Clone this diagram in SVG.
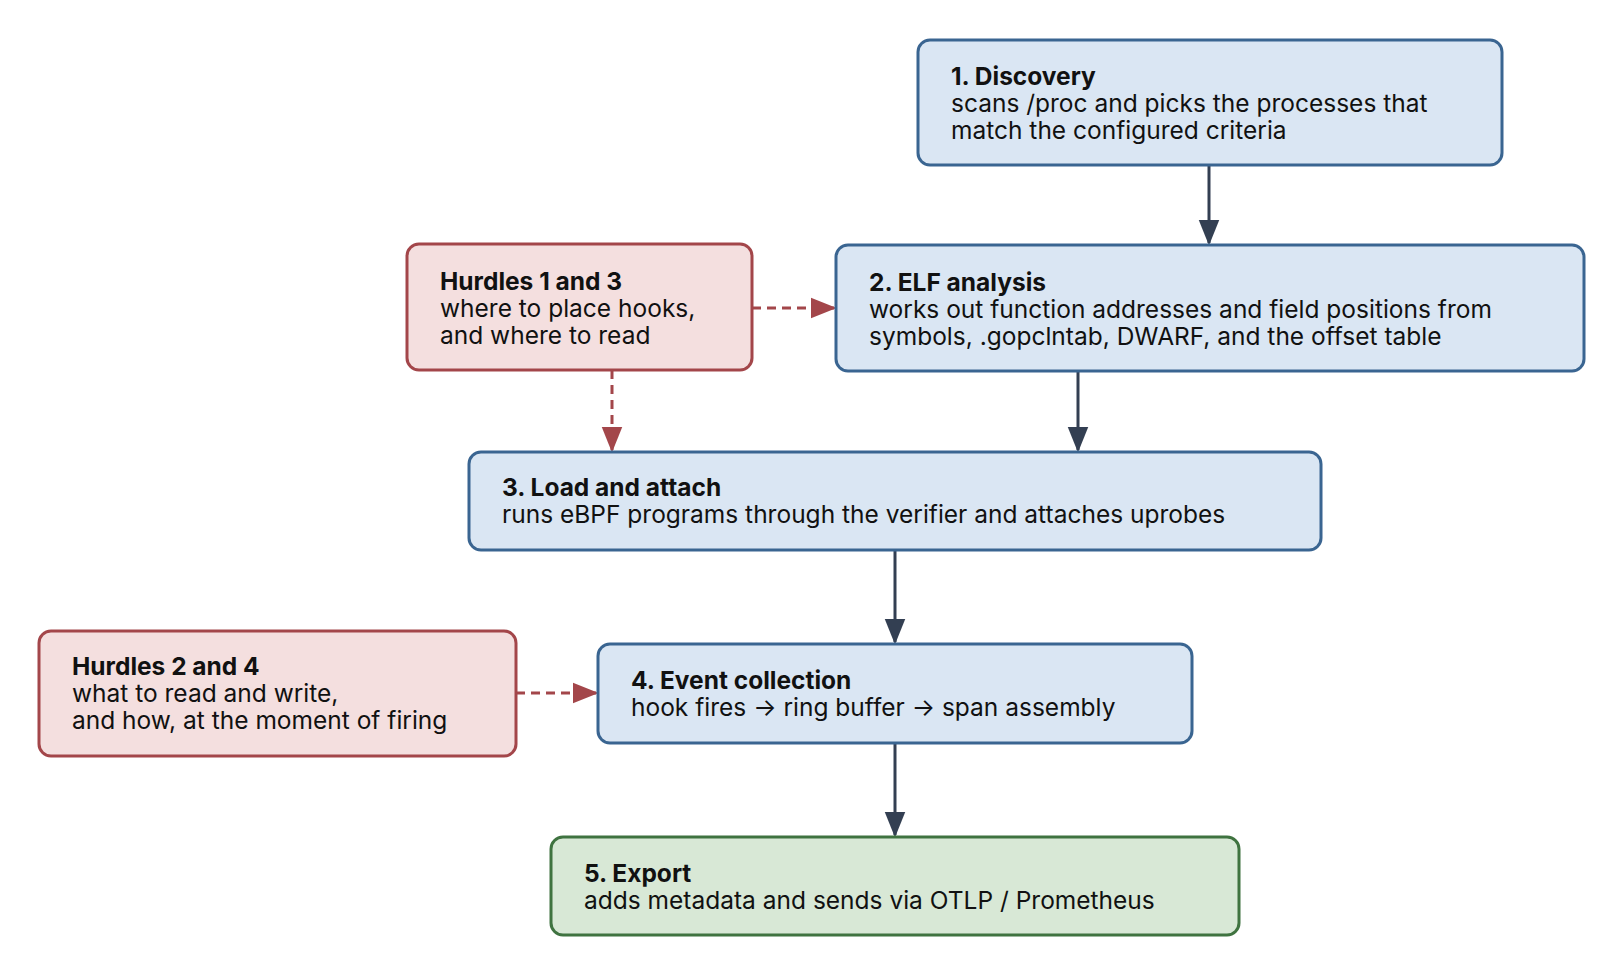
<svg xmlns="http://www.w3.org/2000/svg" width="1616" height="972" viewBox="0 0 1616 972">
<style>
.b{fill:#dae6f3;stroke:#3a6591;stroke-width:3}
.r{fill:#f4dfdf;stroke:#a3464a;stroke-width:3}
.g{fill:#d8e8d6;stroke:#3f7340;stroke-width:3}
text{font-family:Inter,"Noto Sans",sans-serif;font-size:24.5px;fill:#111}
.t{font-weight:bold;font-family:Inter,"Noto Sans",sans-serif}
.s{stroke:#333f52;stroke-width:3;fill:none}
.d{stroke:#a3464a;stroke-width:3;fill:none;stroke-dasharray:9 6}
</style>
<defs>
<marker id="ad" markerWidth="10" markerHeight="10" refX="9" refY="5" orient="auto" markerUnits="userSpaceOnUse" viewBox="0 0 10 10"><path d="M0,0L10,5L0,10z" fill="#333f52"/></marker>
<marker id="ar" viewBox="0 0 10 10" refX="9" refY="5" markerWidth="26" markerHeight="26" orient="auto" markerUnits="userSpaceOnUse"><path d="M0,1L10,5L0,9z" fill="#a3464a"/></marker>
<marker id="ab" viewBox="0 0 10 10" refX="9" refY="5" markerWidth="26" markerHeight="26" orient="auto" markerUnits="userSpaceOnUse"><path d="M0,1L10,5L0,9z" fill="#333f52"/></marker>
</defs>
<rect width="1616" height="972" fill="#fff"/>
<g id="connectors">
<line class="s" x1="1209" y1="165" x2="1209" y2="243" marker-end="url(#ab)"/>
<line class="s" x1="1078" y1="371" x2="1078" y2="450" marker-end="url(#ab)"/>
<line class="s" x1="895" y1="550" x2="895" y2="642" marker-end="url(#ab)"/>
<line class="s" x1="895" y1="743" x2="895" y2="835" marker-end="url(#ab)"/>
<line class="d" x1="752" y1="308" x2="834" y2="308" marker-end="url(#ar)"/>
<line class="d" x1="612" y1="370" x2="612" y2="450" marker-end="url(#ar)"/>
<line class="d" x1="516" y1="693" x2="596" y2="693" marker-end="url(#ar)"/>
</g>
<g id="discovery"><rect class="b" x="918" y="40" width="584" height="125" rx="12"/>
<text x="951" y="85"><tspan class="t">1. Discovery</tspan><tspan x="951" y="112">scans /proc and picks the processes that</tspan><tspan x="951" y="139">match the configured criteria</tspan></text></g>
<g id="elf"><rect class="b" x="836" y="245" width="748" height="126" rx="12"/>
<text x="869" y="291"><tspan class="t">2. ELF analysis</tspan><tspan x="869" y="318">works out function addresses and field positions from</tspan><tspan x="869" y="345">symbols, .gopclntab, DWARF, and the offset table</tspan></text></g>
<g id="hurdles13"><rect class="r" x="407" y="244" width="345" height="126" rx="12"/>
<text x="440" y="290"><tspan class="t">Hurdles 1 and 3</tspan><tspan x="440" y="317">where to place hooks,</tspan><tspan x="440" y="344">and where to read</tspan></text></g>
<g id="load"><rect class="b" x="469" y="452" width="852" height="98" rx="12"/>
<text x="502" y="496"><tspan class="t">3. Load and attach</tspan><tspan x="502" y="523">runs eBPF programs through the verifier and attaches uprobes</tspan></text></g>
<g id="hurdles24"><rect class="r" x="39" y="631" width="477" height="125" rx="12"/>
<text x="72" y="675"><tspan class="t">Hurdles 2 and 4</tspan><tspan x="72" y="702">what to read and write,</tspan><tspan x="72" y="729">and how, at the moment of firing</tspan></text></g>
<g id="event"><rect class="b" x="598" y="644" width="594" height="99" rx="12"/>
<text x="631" y="689"><tspan class="t">4. Event collection</tspan><tspan x="631" y="716">hook fires → ring buffer → span assembly</tspan></text></g>
<g id="export"><rect class="g" x="551" y="837" width="688" height="98" rx="12"/>
<text x="584" y="882"><tspan class="t">5. Export</tspan><tspan x="584" y="909">adds metadata and sends via OTLP / Prometheus</tspan></text></g>
</svg>
